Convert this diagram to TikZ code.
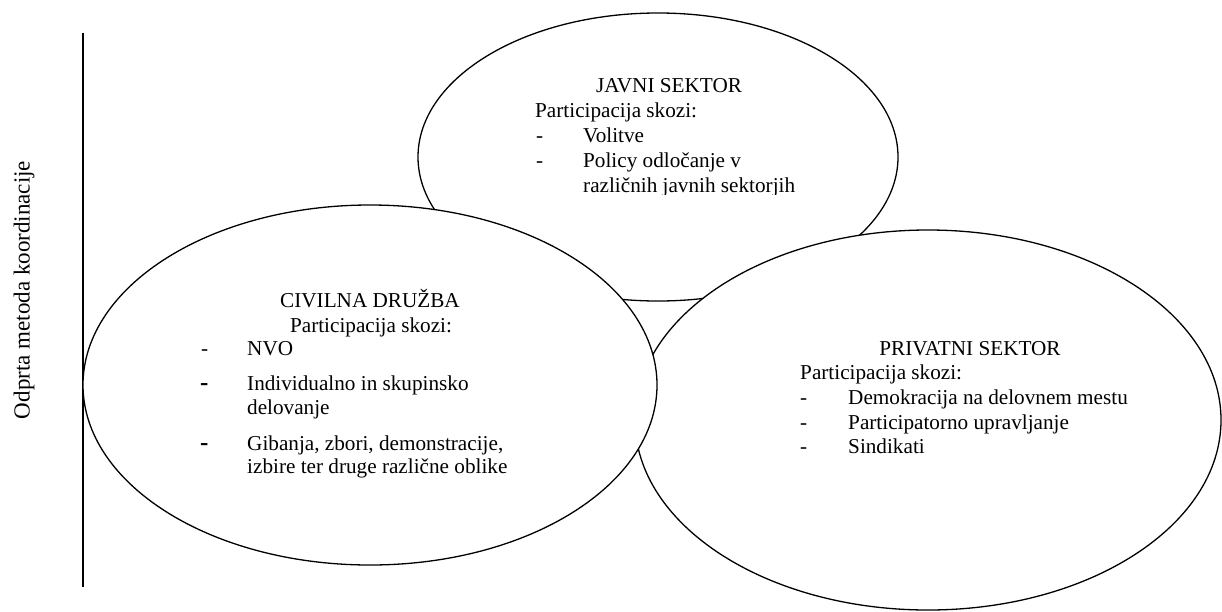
\documentclass[tikz,border=0pt]{standalone}
\usepackage{fontspec}
\setmainfont{Liberation Serif}
\usetikzlibrary{shapes.geometric}
\newcommand{\diagfs}{\fontsize{21.2pt}{24.5pt}\selectfont}
\newcommand{\diagbolddash}{{\fontsize{25pt}{25pt}\selectfont\bfseries -}}
\begin{document}
\begin{tikzpicture}[x=1pt,y=-1pt,
  oval/.style={draw, ellipse, line width=1.3pt, fill=white, inner sep=0pt, outer sep=0pt},
  ln/.style={inner sep=0pt, anchor=base west, font=\diagfs},
  ttl/.style={inner sep=0pt, anchor=base, font=\diagfs},
  axisline/.style={line width=2pt}
]
\useasboundingbox (0,0) rectangle (1222,611);

% vertical axis and its label
\coordinate (ltop) at (83,33);
\coordinate (lbot) at (83,587);
\draw[axisline] (ltop) -- (lbot);
\node[rotate=90, inner sep=0pt, font=\fontsize{23pt}{26pt}\selectfont] (axislabel) at (24,290) {Odprta metoda koordinacije};

% JAVNI SEKTOR
\node[oval, minimum width=480pt, minimum height=288pt] (javni) at (658,157) {};
\begin{scope}
\clip (480,60) rectangle (900,194);
\node[ttl] (jt) at (669,92) {JAVNI SEKTOR};
\node[ln] (jp) at (535,117) {Participacija skozi:};
\node[ln] (jd1) at (536,142) {-};
\node[ln] (ji1) at (583,142) {Volitve};
\node[ln] (jd2) at (536,167) {-};
\node[ln] (ji2) at (583,167) {Policy odločanje v};
\node[ln] (ji3) at (583,192) {različnih javnih sektorjih};
\end{scope}

% PRIVATNI SEKTOR
\node[oval, minimum width=586pt, minimum height=380pt] (privatni) at (928,420) {};

% CIVILNA DRUZBA
\node[oval, minimum width=574pt, minimum height=360pt] (civilna) at (370,385) {};

% texts of PRIVATNI SEKTOR
\node[ttl] (pt) at (970,355) {PRIVATNI SEKTOR};
\node[ln] (pp) at (800,379) {Participacija skozi:};
\node[ln] (pd1) at (800,404) {-};
\node[ln] (pi1) at (848,404) {Demokracija na delovnem mestu};
\node[ln] (pd2) at (800,429) {-};
\node[ln] (pi2) at (848,429) {Participatorno upravljanje};
\node[ln] (pd3) at (800,453) {-};
\node[ln] (pi3) at (848,453) {Sindikati};

% texts of CIVILNA DRUZBA
\node[ttl] (ct) at (370,307) {CIVILNA DRUŽBA};
\node[ttl] (cp) at (371,332) {Participacija skozi:};
\node[ln] (cd1) at (201,355) {-};
\node[ln] (ci1) at (247,355) {NVO};
\node[ln] (cd2) at (200,390) {\diagbolddash};
\node[ln] (ci2) at (247,390) {Individualno in skupinsko};
\node[ln] (ci2b) at (247,414) {delovanje};
\node[ln] (cd3) at (200,450) {\diagbolddash};
\node[ln] (ci3) at (247,450) {Gibanja, zbori, demonstracije,};
\node[ln] (ci3b) at (247,473) {izbire ter druge različne oblike};
\end{tikzpicture}
\end{document}
